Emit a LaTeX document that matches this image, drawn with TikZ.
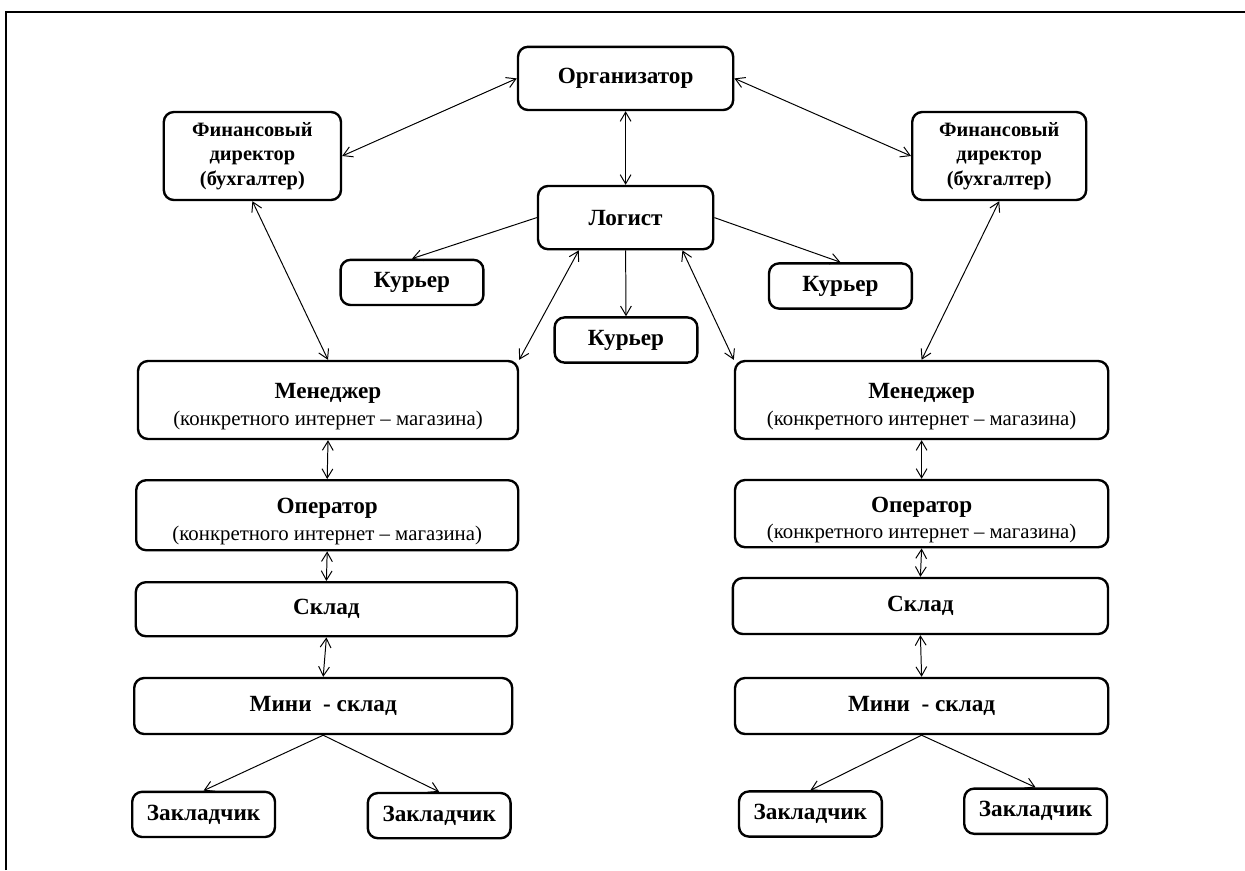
\documentclass[tikz,border=0pt]{standalone}
\usepackage{fontspec}
\setmainfont{Liberation Serif}
\usetikzlibrary{arrows.meta, positioning}
\tikzstyle{unit} = [rectangle, rounded corners=0.25cm, draw=black, line width=1.7pt, align=center, inner sep=0pt, font=\bfseries\fontsize{16.5}{19}\selectfont]
\tikzstyle{finunit} = [unit, minimum width=4.4cm, minimum height=2.2cm, font=\bfseries\fontsize{14.5}{17.5}\selectfont]
\tikzstyle{smallunit} = [unit, minimum width=3.57cm, minimum height=1.13cm]
\tikzstyle{shopunit} = [unit, minimum width=9.45cm]
\tikzstyle{arrow} = [line width=0.7pt, -{Straight Barb[length=2.3mm,width=2.7mm]}]
\tikzstyle{dblarrow} = [line width=0.7pt, {Straight Barb[length=2.3mm,width=2.7mm]}-{Straight Barb[length=2.3mm,width=2.7mm]}]

\begin{document}
\begin{tikzpicture}

\useasboundingbox (0,0) rectangle (31.125,-21.75);

% Frame
\draw[line width=1.2pt] (0.15,-21.75) -- (0.15,-0.3) -- (31.125,-0.3);

% Top level
\node[unit, minimum width=5.38cm, minimum height=1.58cm] (org) at (15.64,-1.96) {Организатор};
\node[finunit, minimum width=4.43cm] (finL) at (6.31,-3.90) {Финансовый\\директор\\(бухгалтер)};
\node[finunit, minimum width=4.35cm] (finR) at (24.98,-3.90) {Финансовый\\директор\\(бухгалтер)};
\node[unit, minimum width=4.38cm, minimum height=1.58cm] (log) at (15.64,-5.44) {Логист};

% Couriers
\node[smallunit] (kurL) at (10.30,-7.06) {Курьер};
\node[smallunit] (kurR) at (21.01,-7.15) {Курьер};
\node[smallunit] (kurC) at (15.65,-8.50) {Курьер};

% Left shop
\node[shopunit, minimum width=9.5cm, minimum height=1.95cm] (manL) at (8.20,-10.0) {\rule{0pt}{7mm}Менеджер\\{\mdseries\fontsize{14.8}{17}\selectfont(конкретного интернет – магазина)}};
\node[shopunit, minimum width=9.55cm, minimum height=1.75cm] (opL) at (8.18,-12.88) {\rule{0pt}{7mm}Оператор\\{\mdseries\fontsize{14.8}{17}\selectfont(конкретного интернет – магазина)}};
\node[shopunit, minimum width=9.53cm, minimum height=1.35cm] (skL) at (8.16,-15.23) {Склад};
\node[shopunit, minimum height=1.4cm] (miniL) at (8.08,-17.65) {Мини~ - склад};
\node[smallunit] (zL1) at (5.09,-20.36) {Закладчик};
\node[smallunit] (zL2) at (10.98,-20.39) {Закладчик};

% Right shop
\node[shopunit, minimum width=9.33cm, minimum height=1.95cm] (manR) at (23.04,-10.0) {\rule{0pt}{7mm}Менеджер\\{\mdseries\fontsize{14.8}{17}\selectfont(конкретного интернет – магазина)}};
\node[shopunit, minimum width=9.33cm, minimum height=1.68cm] (opR) at (23.04,-12.84) {\rule{0pt}{7mm}Оператор\\{\mdseries\fontsize{14.8}{17}\selectfont(конкретного интернет – магазина)}};
\node[shopunit, minimum width=9.38cm, minimum height=1.4cm] (skR) at (23.01,-15.15) {Склад};
\node[shopunit, minimum width=9.33cm, minimum height=1.4cm] (miniR) at (23.04,-17.65) {Мини~ - склад};
\node[smallunit] (zR1) at (20.26,-20.35) {Закладчик};
\node[smallunit] (zR2) at (25.89,-20.28) {Закладчик};

% Links at the top
\draw[dblarrow] (org.west) -- (finL.east);
\draw[dblarrow] (org.east) -- (finR.west);
\draw[dblarrow] (org.south) -- (log.north);
\draw[dblarrow] (finL.south) -- (manL.north);
\draw[dblarrow] (finR.south) -- (manR.north);

% Logist to couriers and managers
\draw[arrow] (log.west) -- (kurL.north);
\draw[arrow] (log.east) -- (kurR.north);
\draw[arrow] (log.south) -- (kurC.north);
\draw[dblarrow] (log.215) -- (manL.north east);
\draw[dblarrow] (log.330) -- (manR.north west);

% Shop chains
\draw[dblarrow] (manL.south) -- (opL.north);
\draw[dblarrow] (opL.south) -- (skL.north);
\draw[dblarrow] (skL.south) -- (miniL.north);
\draw[arrow] (miniL.south) -- (zL1.north);
\draw[arrow] (miniL.south) -- (zL2.north);
\draw[dblarrow] (manR.south) -- (opR.north);
\draw[dblarrow] (opR.south) -- (skR.north);
\draw[dblarrow] (skR.south) -- (miniR.north);
\draw[arrow] (miniR.south) -- (zR1.north);
\draw[arrow] (miniR.south) -- (zR2.north);

\end{tikzpicture}
\end{document}
